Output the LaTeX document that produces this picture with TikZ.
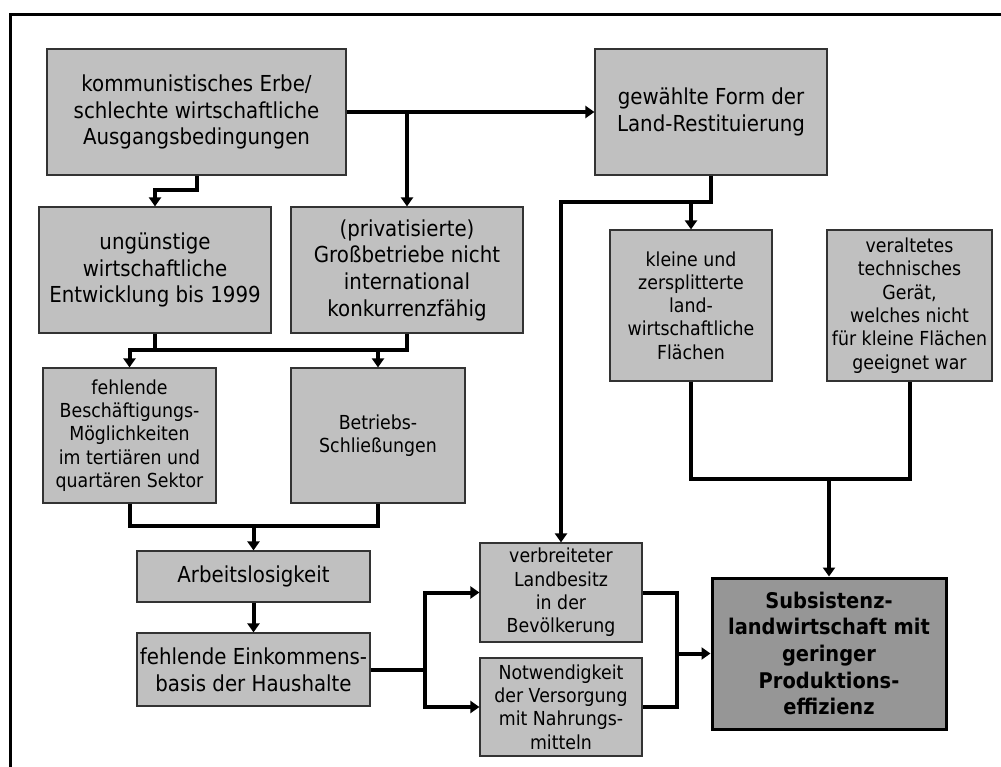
\documentclass[tikz,border=0pt]{standalone}
\usepackage{fontspec}
\setmainfont{DejaVu Sans}[FakeStretch=0.9]
\usetikzlibrary{arrows.meta}
\definecolor{boxgray}{HTML}{C0C0C0}
\definecolor{keygray}{HTML}{969696}
\definecolor{edgegray}{HTML}{333333}
\tikzset{
  box/.style={draw=edgegray, line width=1.2pt, fill=boxgray, inner sep=0pt,
    align=center, font=\fontsize{22}{26.7}\selectfont},
  smallbox/.style={box, font=\fontsize{19.3}{23.3}\selectfont},
  keybox/.style={draw=black, line width=3pt, fill=keygray, inner sep=0pt,
    align=center, font=\fontsize{21.6}{26.7}\selectfont\bfseries},
  conn/.style={line width=4pt, draw=black},
  arr/.style={conn, -{Triangle[length=9pt,width=12pt]}},
}
\begin{document}
\begin{tikzpicture}[x=1pt, y=-1pt]
\useasboundingbox (0,0) rectangle (1001,767);
% outer frame
\draw[line width=3pt] (10,767) -- (10,15) -- (1001,15);

% boxes
\node[box, minimum width=299pt, minimum height=126pt] (A) at (196.5,112)
  {kommunistisches Erbe/\\schlechte wirtschaftliche\\Ausgangsbedingungen};
\node[box, minimum width=232pt, minimum height=126pt] (B) at (155,270)
  {ungünstige\\wirtschaftliche\\Entwicklung bis 1999};
\node[box, minimum width=232pt, minimum height=126pt] (C) at (407,270)
  {(privatisierte)\\Großbetriebe nicht\\international\\konkurrenzfähig};
\node[box, minimum width=232pt, minimum height=126pt] (D) at (711,112)
  {gewählte Form der\\Land-Restituierung};
\node[smallbox, minimum width=162pt, minimum height=151pt] (E) at (691,305.5)
  {kleine und\\zersplitterte\\land-\\wirtschaftliche\\Flächen};
\node[smallbox, minimum width=165pt, minimum height=151pt] (F) at (909.5,305.5)
  {veraltetes\\technisches\\Gerät,\\welches nicht\\für kleine Flächen\\geeignet war};
\node[smallbox, minimum width=173pt, minimum height=135pt] (G) at (129.5,435.5)
  {fehlende\\Beschäftigungs-\\Möglichkeiten\\im tertiären und\\quartären Sektor};
\node[smallbox, minimum width=174pt, minimum height=135pt] (H) at (378,435.5)
  {Betriebs-\\Schließungen};
\node[box, minimum width=233pt, minimum height=51pt] (I) at (253.5,576.5)
  {Arbeitslosigkeit};
\node[box, minimum width=233pt, minimum height=73pt] (J) at (253.5,669.5)
  {fehlende Einkommens-\\basis der Haushalte};
\node[smallbox, minimum width=162pt, minimum height=99pt] (K) at (561,592.5)
  {verbreiteter\\Landbesitz\\in der\\Bevölkerung};
\node[smallbox, minimum width=162pt, minimum height=98pt] (L) at (561,707)
  {Notwendigkeit\\der Versorgung\\mit Nahrungs-\\mitteln};
\node[keybox, minimum width=234pt, minimum height=151pt] (M) at (829,653.5)
  {Subsistenz-\\landwirtschaft mit\\geringer\\Produktions-\\effizienz};

% junction levels
\coordinate (ab) at (0,190);
\coordinate (bc) at (0,350);
\coordinate (gh) at (0,526);
\coordinate (dk) at (0,202);
\coordinate (ef) at (0,479);
\coordinate (jx) at (425,0);
\coordinate (kx) at (677,0);

% connectors
\draw[arr] (A.south) -- (A.south |- ab) -| (B.north);
\draw[arr] (A.east) -- (D.west);
\draw[arr] (A.east -| C.north) -- (C.north);

\draw[arr] (C.south) |- (G.north |- bc) -- (G.north);
\draw[conn] (B.south) -- (B.south |- bc);
\draw[arr] (H.north |- bc) -- (H.north);

\draw[conn] (G.south) |- (H.south |- gh) -- (H.south);
\draw[arr] (I.north |- gh) -- (I.north);
\draw[arr] (I.south) -- (J.north);

\draw[conn] (J.east) -- (jx |- J.east);
\draw[arr] (jx |- J.east) |- (K.west);
\draw[arr] (jx |- J.east) |- (L.west);

\draw[arr] (D.south) -- (D.south |- dk) -| (K.north);
\draw[arr] (E.north |- dk) -- (E.north);

\draw[conn] (E.south) |- (F.south |- ef) -- (F.south);
\draw[arr] (M.north |- ef) -- (M.north);

\draw[conn] (K.east) -| (kx |- L.east) -- (L.east);
\draw[arr] (kx |- M.west) -- (M.west);
\end{tikzpicture}
\end{document}
